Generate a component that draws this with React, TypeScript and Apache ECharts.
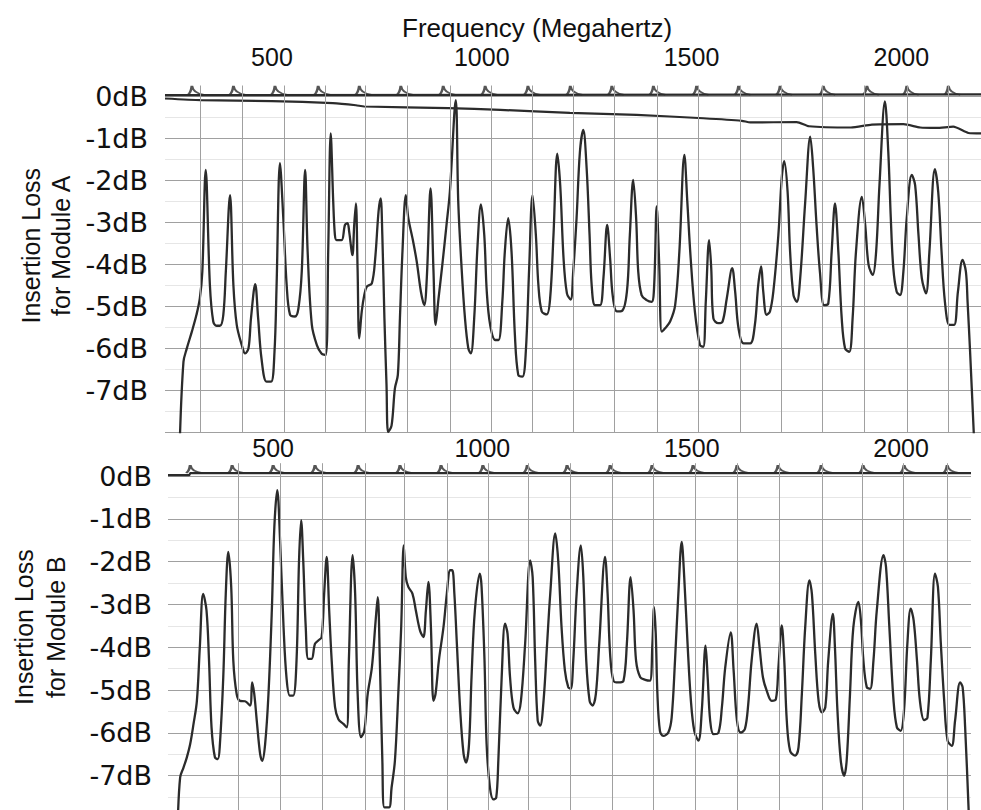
import React, { useEffect, useRef } from "react";
import * as echarts from "echarts";

// ---------- data ----------
const freqTicks = [500, 1000, 1500, 2000];
const dbTicks = [0, -1, -2, -3, -4, -5, -6, -7];

// Module A: resonance trace [MHz, dB]
const topTrace = [
  [280, -8.3], [289, -6.33], [297, -6.01], [309, -5.61], [320, -5.21], [328, -4.82], [334, -4.18], [342, -1.76],
  [352, -4.5], [360, -5.37], [368, -5.47], [376, -5.47], [384, -5.21], [390, -4.18], [400, -2.36], [408, -4.5],
  [416, -5.45], [428, -5.93], [436, -6.13], [444, -6.01], [450, -5.29], [460, -4.48], [467, -5.29], [475, -6.25],
  [487, -6.8], [498, -6.8], [506, -6.09], [511, -4.5], [519, -1.6], [527, -2.91], [535, -4.5], [543, -5.21],
  [555, -5.25], [563, -5.06], [571, -4.18], [579, -1.76], [585, -3.71], [595, -5.45], [607, -5.93], [618, -6.13],
  [628, -6.17], [634, -3.71], [640, -0.89], [646, -2.52], [650, -3.31], [654, -3.43], [666, -3.43], [674, -3.07],
  [680, -3.03], [684, -3.23], [690, -3.71], [692, -3.79], [696, -3.07], [700, -2.56], [704, -4.1], [708, -5.77],
  [714, -5.13], [720, -4.74], [726, -4.54], [738, -4.46], [746, -3.87], [754, -2.75], [759, -2.44], [763, -3.31],
  [768, -5.29], [773, -6.88], [777, -8.0], [785, -7.85], [793, -6.96], [800, -6.64], [805, -5.29], [811, -3.71],
  [819, -2.36], [825, -2.91], [835, -3.39], [845, -3.94], [855, -4.66], [863, -4.98], [869, -4.34], [878, -2.2],
  [885, -4.18], [890, -5.45], [897, -4.82], [906, -4.02], [916, -3.07], [924, -2.28], [938, -0.1], [944, -2.52],
  [952, -4.1], [960, -5.29], [968, -6.01], [974, -6.13], [982, -5.29], [990, -3.55], [998, -2.58], [1006, -3.31],
  [1012, -4.66], [1020, -5.45], [1032, -5.81], [1040, -5.81], [1049, -4.9], [1055, -3.71], [1063, -2.91], [1071, -3.71],
  [1079, -5.69], [1087, -6.64], [1097, -6.68], [1105, -6.09], [1113, -4.1], [1121, -2.36], [1129, -3.31], [1135, -4.5],
  [1143, -5.13], [1155, -5.2], [1163, -4.82], [1171, -3.31], [1180, -1.37], [1187, -2.12], [1195, -3.87], [1203, -4.7],
  [1212, -4.85], [1218, -4.18], [1226, -2.91], [1234, -1.33], [1242, -0.81], [1250, -1.72], [1257, -3.31], [1262, -4.5],
  [1270, -4.98], [1282, -4.98], [1290, -4.34], [1299, -3.07], [1306, -3.87], [1312, -4.74], [1322, -5.13], [1334, -5.12],
  [1346, -4.66], [1353, -3.31], [1361, -2.0], [1368, -2.91], [1373, -4.18], [1381, -4.74], [1393, -4.86], [1405, -4.9],
  [1411, -4.5], [1417, -2.63], [1423, -4.02], [1429, -5.61], [1437, -5.53], [1449, -5.37], [1461, -4.98], [1471, -3.71],
  [1483, -1.4], [1490, -2.52], [1498, -3.87], [1508, -5.13], [1520, -5.93], [1528, -5.97], [1534, -4.9], [1542, -3.43],
  [1547, -4.1], [1552, -5.29], [1564, -5.41], [1574, -5.37], [1584, -4.82], [1597, -4.1], [1604, -4.66], [1612, -5.53],
  [1624, -5.89], [1640, -5.89], [1651, -5.45], [1659, -4.5], [1666, -4.06], [1671, -4.66], [1679, -5.21], [1687, -5.13],
  [1695, -4.66], [1707, -3.31], [1715, -1.96], [1721, -1.55], [1729, -2.28], [1735, -3.71], [1743, -4.74], [1751, -4.9],
  [1759, -4.34], [1771, -2.52], [1783, -0.97], [1790, -1.72], [1798, -3.07], [1806, -4.18], [1816, -4.98], [1826, -4.94],
  [1834, -3.71], [1842, -2.56], [1850, -3.71], [1858, -5.29], [1866, -6.01], [1876, -6.09], [1884, -5.29], [1892, -3.71],
  [1906, -2.4], [1914, -3.07], [1922, -4.02], [1932, -4.26], [1940, -3.71], [1948, -2.12], [1961, -0.13], [1969, -1.33],
  [1975, -2.91], [1981, -4.1], [1989, -4.66], [1997, -4.74], [2005, -4.18], [2013, -2.91], [2025, -1.88], [2033, -2.12],
  [2041, -3.31], [2049, -4.34], [2059, -4.7], [2067, -3.71], [2080, -1.74], [2088, -2.28], [2096, -3.71], [2104, -4.9],
  [2115, -5.45], [2126, -5.45], [2135, -4.66], [2146, -3.9], [2154, -4.18], [2158, -4.9], [2164, -6.09], [2174, -8.3],
];

// Module A: slowly falling through-line [MHz, dB]
const topThroughLine = [
  [245, -0.06], [330, -0.1], [500, -0.12], [645, -0.17], [700, -0.22], [720, -0.25], [920, -0.29], [1044, -0.33],
  [1210, -0.4], [1369, -0.45], [1528, -0.53], [1620, -0.59], [1640, -0.63], [1751, -0.62], [1780, -0.72], [1880, -0.75],
  [1930, -0.68], [2005, -0.67], [2045, -0.75], [2084, -0.76], [2124, -0.73], [2160, -0.88], [2190, -0.89],
];

// Module A: 0 dB reference line and its frequency markers
const topRefLine = [[245, 0.02], [2190, 0.04]];
const topMarkerLevel = 0.03;
const topMarkerFreqs = [309, 408, 507, 610, 708, 807, 908, 1008, 1110, 1211, 1310, 1409, 1512, 1612, 1711, 1814, 1918, 2013, 2112];
const topGridFreqs = [328, 429, 529, 626, 722, 822, 924, 1022, 1120, 1218, 1315, 1418, 1516, 1616, 1713, 1811, 1911, 2014, 2112];

// Module B: resonance trace [MHz, dB]
const bottomTrace = [
  [272, -8.2], [278, -7.04], [286, -6.81], [294, -6.57], [302, -6.26], [310, -5.79], [318, -5.25], [325, -4.0],
  [333, -2.75], [341, -3.14], [347, -4.31], [353, -5.87], [361, -6.57], [368, -6.61], [373, -6.26], [381, -4.7],
  [387, -2.75], [393, -1.77], [400, -2.59], [405, -4.31], [413, -5.09], [421, -5.25], [433, -5.26], [445, -5.36],
  [450, -4.82], [455, -5.09], [461, -5.71], [469, -6.49], [474, -6.65], [481, -6.26], [489, -5.09], [497, -3.14],
  [503, -1.19], [510, -0.33], [517, -1.58], [525, -3.53], [532, -4.7], [540, -5.13], [548, -5.13], [556, -4.31],
  [562, -1.97], [567, -1.03], [572, -1.97], [578, -3.53], [584, -4.27], [592, -4.27], [600, -3.92], [608, -3.84],
  [616, -3.76], [622, -2.75], [628, -1.89], [634, -3.14], [640, -4.31], [648, -5.4], [656, -5.68], [668, -5.79],
  [676, -5.87], [681, -4.31], [690, -1.85], [696, -2.75], [702, -5.09], [710, -6.1], [718, -5.95], [726, -5.09],
  [736, -4.47], [745, -3.37], [750, -2.83], [755, -4.31], [761, -6.65], [766, -7.74], [777, -7.74], [783, -7.28],
  [791, -6.65], [799, -5.09], [806, -3.53], [812, -1.62], [817, -2.36], [823, -2.59], [833, -2.75], [841, -3.14],
  [851, -3.61], [859, -3.76], [865, -3.14], [871, -2.47], [877, -3.53], [883, -5.25], [888, -5.09], [896, -4.31],
  [907, -3.53], [915, -2.75], [923, -2.2], [928, -2.2], [933, -2.75], [939, -3.92], [947, -5.48], [955, -6.49],
  [961, -6.69], [968, -6.26], [974, -4.7], [982, -3.14], [994, -2.28], [998, -2.59], [1005, -4.31], [1010, -6.26],
  [1018, -7.28], [1026, -7.55], [1033, -7.51], [1038, -6.65], [1046, -4.7], [1054, -3.45], [1060, -3.68], [1066, -4.7],
  [1074, -5.4], [1084, -5.54], [1092, -5.25], [1102, -3.92], [1114, -1.97], [1120, -2.36], [1126, -4.31], [1132, -5.71],
  [1138, -5.83], [1146, -5.25], [1154, -4.0], [1162, -2.75], [1174, -1.34], [1181, -1.97], [1189, -3.53], [1197, -4.54],
  [1205, -4.93], [1211, -4.97], [1217, -4.31], [1225, -2.75], [1235, -1.62], [1241, -2.36], [1248, -4.31], [1256, -5.25],
  [1263, -5.36], [1271, -5.09], [1279, -3.92], [1293, -1.89], [1299, -2.75], [1305, -4.15], [1313, -4.78], [1325, -4.82],
  [1337, -4.78], [1345, -3.92], [1354, -2.36], [1361, -3.14], [1367, -4.31], [1377, -4.7], [1389, -4.76], [1400, -4.78],
  [1406, -3.92], [1410, -3.06], [1414, -3.68], [1418, -5.09], [1424, -5.95], [1432, -6.07], [1444, -5.99], [1452, -5.64],
  [1460, -4.31], [1468, -2.75], [1476, -1.54], [1482, -2.36], [1490, -3.92], [1498, -5.25], [1506, -5.95], [1516, -6.18],
  [1524, -5.48], [1533, -3.96], [1538, -4.7], [1544, -5.71], [1552, -6.03], [1564, -5.99], [1572, -5.4], [1580, -4.47],
  [1593, -3.65], [1600, -4.54], [1608, -5.71], [1617, -5.99], [1627, -5.91], [1635, -5.32], [1643, -4.31], [1655, -3.45],
  [1662, -4.0], [1670, -4.7], [1679, -5.01], [1691, -5.25], [1701, -5.21], [1707, -4.47], [1715, -3.49], [1721, -4.31],
  [1727, -5.71], [1735, -6.42], [1747, -6.53], [1755, -6.34], [1763, -5.09], [1771, -3.53], [1781, -2.44], [1787, -2.75],
  [1795, -4.15], [1803, -5.25], [1811, -5.52], [1819, -5.4], [1826, -4.31], [1837, -3.22], [1842, -4.0], [1848, -5.48],
  [1856, -6.65], [1864, -7.0], [1870, -6.65], [1878, -5.09], [1886, -3.53], [1898, -2.94], [1904, -3.37], [1910, -4.31],
  [1918, -4.93], [1926, -4.97], [1934, -4.31], [1942, -3.14], [1958, -1.85], [1964, -2.12], [1972, -3.53], [1982, -5.25],
  [1990, -5.87], [1999, -5.95], [2007, -5.48], [2015, -3.92], [2023, -3.1], [2030, -3.37], [2038, -4.31], [2045, -5.25],
  [2055, -5.7], [2063, -5.64], [2071, -4.31], [2081, -2.28], [2088, -2.59], [2095, -3.92], [2103, -5.25], [2111, -6.18],
  [2121, -6.3], [2129, -5.71], [2141, -4.82], [2147, -4.93], [2153, -5.87], [2163, -8.2],
];

// Module B: 0 dB reference line and its frequency markers
const bottomRefLine = [[249, 0.02], [300, 0.02], [302, 0.07], [2167, 0.07]];
const bottomMarkerLevel = 0.07;
const bottomMarkerFreqs = [302, 402, 500, 600, 703, 803, 901, 1001, 1107, 1202, 1305, 1405, 1503, 1608, 1706, 1809, 1909, 2007, 2110];
const bottomGridFreqs = [416, 517, 617, 720, 813, 915, 1013, 1110, 1209, 1310, 1408, 1508, 1608, 1709, 1811, 1907, 2005, 2110];

// ---------- styling ----------
const INK = "#2b2b2b";
const GRID = "#a0a0a0";
const cusp = "path://M0,10 Q3,8 4,0 Q5,8 16,10";

function yAxis(gridIndex: number, min: number, max: number, name: string, nameGap: number, lineH: number, shift: number, margin: number) {
  return {
    type: "value",
    gridIndex,
    min,
    max,
    splitNumber: 8,
    minInterval: 1,
    maxInterval: 1,
    axisLine: { show: false },
    axisTick: { show: false },
    axisLabel: {
      formatter: (v: number) => (dbTicks.includes(v) ? `${v}dB` : ""),
      fontSize: 27,
      fontFamily: "DejaVu Sans",
      color: "#111",
      margin,
    },
    splitLine: { show: true, showMinLine: gridIndex === 0, showMaxLine: false, lineStyle: { color: GRID, width: 1 } },
    minorTick: { show: false, splitNumber: 2 },
    minorSplitLine: { show: true, lineStyle: { color: "#e6e6e6", width: 1 } },
    name,
    nameLocation: "middle",
    nameRotate: 90,
    nameGap,
    nameMoveOverlap: false,
    nameTextStyle: {
      fontSize: 25,
      lineHeight: lineH,
      fontFamily: "Liberation Sans",
      color: "#111",
      padding: [0, 0, 0, shift],
    },
  };
}

function xAxis(gridIndex: number, min: number, max: number, margin: number) {
  return {
    type: "value",
    gridIndex,
    position: "top",
    min,
    max,
    minInterval: 500,
    maxInterval: 500,
    axisLine: { show: false },
    axisTick: { show: false },
    splitLine: { show: false },
    axisLabel: {
      formatter: (v: number) => (freqTicks.includes(v) ? String(v) : ""),
      fontSize: 25,
      fontFamily: "Liberation Sans",
      color: "#111",
      margin,
    },
  };
}

function gridMarks(freqs: number[]) {
  return {
    silent: true,
    symbol: ["none", "none"],
    label: { show: false },
    lineStyle: { color: GRID, width: 1, type: "solid" },
    emphasis: { disabled: true },
    data: freqs.map((f) => ({ xAxis: f })),
  };
}

export default function App() {
  const ref = useRef<HTMLDivElement>(null);

  useEffect(() => {
    document.body.style.margin = "0";
    const chart = echarts.init(ref.current!, undefined, { renderer: "svg" });
    chart.setOption({
      animation: false,
      backgroundColor: "#ffffff",
      title: {
        text: "Frequency (Megahertz)",
        left: 397,
        top: 10,
        textStyle: { fontSize: 26, fontWeight: "normal", fontFamily: "Liberation Sans", color: "#111" },
      },
      grid: [
        { left: 165, right: 0, top: 85.5, height: 346.5, outerBoundsMode: "none" },
        { left: 168, right: 10, top: 463.2, height: 346.8, outerBoundsMode: "none" },
      ],
      xAxis: [xAxis(0, 245, 2190, 16), xAxis(1, 249, 2167, 3)],
      yAxis: [
        yAxis(0, -8, 0.25, "Insertion Loss\nfor Module A", 89, 30, 26, 17),
        yAxis(1, -7.8, 0.3, "Insertion Loss\nfor Module B", 96, 32, 19, 16),
      ],
      series: [
        {
          type: "line",
          xAxisIndex: 0,
          yAxisIndex: 0,
          data: topTrace,
          showSymbol: false,
          smooth: 0.35,
          lineStyle: { color: INK, width: 2.3 },
          markLine: gridMarks(topGridFreqs),
          z: 3,
        },
        {
          type: "line",
          xAxisIndex: 0,
          yAxisIndex: 0,
          data: topThroughLine,
          showSymbol: false,
          smooth: 0.2,
          lineStyle: { color: INK, width: 2.2 },
          z: 3,
        },
        {
          type: "line",
          xAxisIndex: 0,
          yAxisIndex: 0,
          data: topRefLine,
          showSymbol: false,
          lineStyle: { color: INK, width: 2.2 },
          z: 3,
        },
        {
          type: "scatter",
          xAxisIndex: 0,
          yAxisIndex: 0,
          data: topMarkerFreqs.map((f) => [f, topMarkerLevel]),
          symbol: cusp,
          symbolSize: [16, 9],
          symbolOffset: [4, -4.5],
          itemStyle: { color: "rgba(0,0,0,0)", borderColor: INK, borderWidth: 2 },
          silent: true,
          z: 4,
        },
        {
          type: "line",
          xAxisIndex: 1,
          yAxisIndex: 1,
          data: bottomTrace,
          showSymbol: false,
          smooth: 0.35,
          lineStyle: { color: INK, width: 2.3 },
          markLine: gridMarks(bottomGridFreqs),
          z: 3,
        },
        {
          type: "line",
          xAxisIndex: 1,
          yAxisIndex: 1,
          data: bottomRefLine,
          showSymbol: false,
          lineStyle: { color: INK, width: 2.2 },
          z: 3,
        },
        {
          type: "scatter",
          xAxisIndex: 1,
          yAxisIndex: 1,
          data: bottomMarkerFreqs.map((f) => [f, bottomMarkerLevel]),
          symbol: cusp,
          symbolSize: [16, 8],
          symbolOffset: [4, -4],
          itemStyle: { color: "rgba(0,0,0,0)", borderColor: INK, borderWidth: 2 },
          silent: true,
          z: 4,
        },
      ],
    });
    return () => chart.dispose();
  }, []);

  return (
    <div
      ref={ref}
      style={{ position: "absolute", left: 0, top: 0, width: 981, height: 810, background: "#fff" }}
    />
  );
}
